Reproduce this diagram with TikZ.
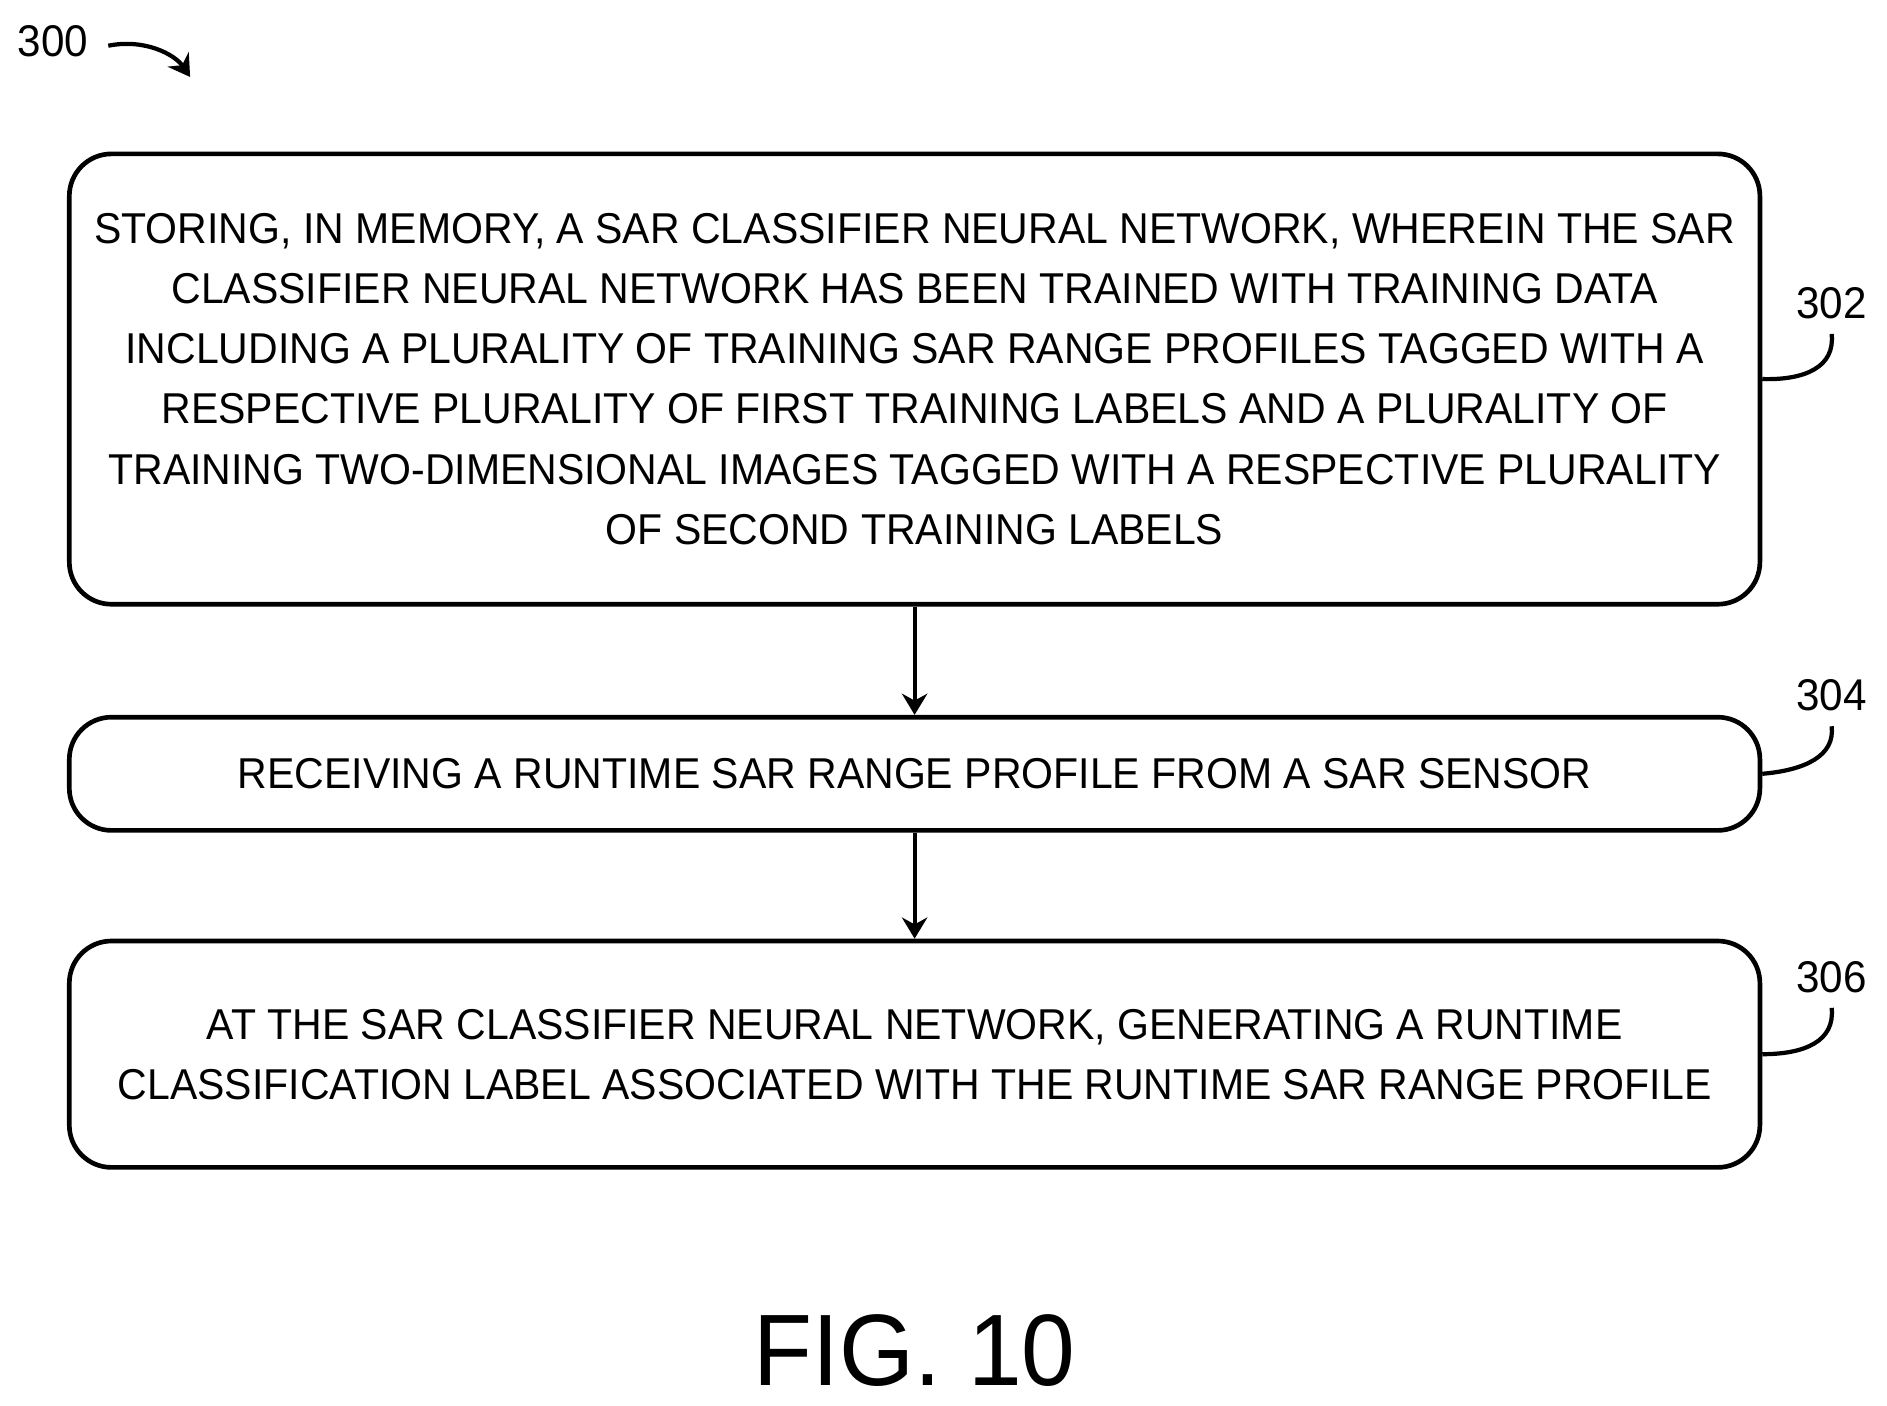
\documentclass[tikz,border=0pt]{standalone}
\usepackage{fontspec}
\usetikzlibrary{arrows.meta}
\setmainfont{Liberation Sans}[FakeStretch=0.95]
\begin{document}
\begin{tikzpicture}[x=0.01cm,y=-0.01cm,
 box/.style={draw,line width=1.1pt,rounded corners=0.35cm,align=center,font=\fontsize{10.2}{14.2}\selectfont},
 lead/.style={line width=1pt},
 arr/.style={line width=1pt,-{Stealth[length=5pt,width=6pt]}},
 num/.style={font=\fontsize{10.5}{12}\selectfont}]
\useasboundingbox (0,0) rectangle (1568,1168);
\node[box,minimum width=14.04cm,minimum height=3.74cm] (b1) at (760,315) {STORING, IN MEMORY, A SAR CLASSIFIER NEURAL NETWORK, WHEREIN THE SAR\\CLASSIFIER NEURAL NETWORK HAS BEEN TRAINED WITH TRAINING DATA\\INCLUDING A PLURALITY OF TRAINING SAR RANGE PROFILES TAGGED WITH A\\RESPECTIVE PLURALITY OF FIRST TRAINING LABELS AND A PLURALITY OF\\TRAINING TWO-DIMENSIONAL IMAGES TAGGED WITH A RESPECTIVE PLURALITY\\OF SECOND TRAINING LABELS};
\node[box,minimum width=14.04cm,minimum height=0.94cm] (b2) at (760,643) {RECEIVING A RUNTIME SAR RANGE PROFILE FROM A SAR SENSOR};
\node[box,minimum width=14.04cm,minimum height=1.88cm] (b3) at (760,876) {AT THE SAR CLASSIFIER NEURAL NETWORK, GENERATING A RUNTIME\\CLASSIFICATION LABEL ASSOCIATED WITH THE RUNTIME SAR RANGE PROFILE};
\draw[arr] (b1) -- (b2);
\draw[arr] (b2) -- (b3);
\node[num] (n302) at (1522,252) {302};
\node[num] (n304) at (1522,578) {304};
\node[num] (n306) at (1522,812) {306};
\node[num] (n300) at (44,34) {300};
\draw[lead] (b1.east) .. controls (1500,316) and (1525,305) .. (n302.south);
\draw[lead] (b2.east) .. controls (1500,640) and (1525,628) .. (n304.south);
\draw[lead] (b3.east) .. controls (1500,876) and (1525,865) .. (n306.south);
\coordinate (a0) at (90,38);
\coordinate (a1) at (158,64);
\draw[arr] (a0) .. controls (120,32) and (145,45) .. (a1);
\node[font=\fontsize{24}{28}\selectfont] (fig) at (760,1122) {FIG. 10};
\end{tikzpicture}
\end{document}
